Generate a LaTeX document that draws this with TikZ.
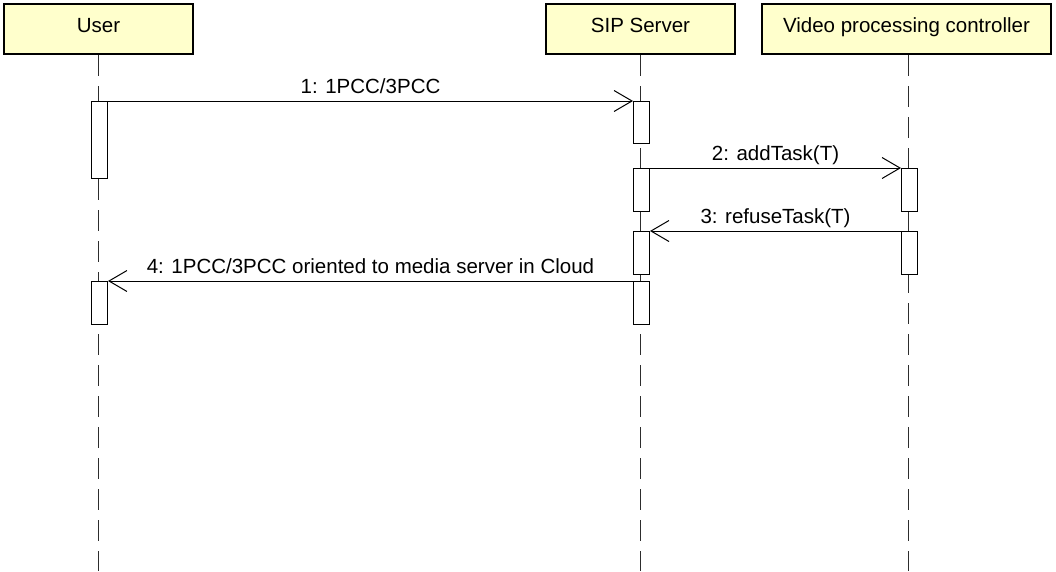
\documentclass[tikz,border=0pt]{standalone}
\usepackage{fontspec}
\setmainfont{Liberation Sans}
\usetikzlibrary{arrows.meta}
\definecolor{hdrfill}{RGB}{255,255,204}
\definecolor{lifegray}{RGB}{45,45,45}
\tikzset{
  header/.style={draw=black, line width=2pt, fill=hdrfill, minimum height=50pt, inner sep=0pt, text height=15pt, text depth=9pt, font=\fontsize{20.5}{24}\selectfont},
  actbar/.style={draw=black, line width=1pt, fill=white, minimum width=16pt, inner sep=0pt, anchor=north},
  lifeline/.style={draw=lifegray, line width=1.8pt, dash pattern=on 21pt off 10pt},
  msg/.style={draw=black, line width=1pt, -{Straight Barb[length=18pt,width=21pt,line width=1pt]}},
  msglabel/.style={font=\fontsize{20.5}{24}\selectfont, anchor=base, yshift=8pt, inner sep=0pt}
}
\begin{document}
\begin{tikzpicture}[x=1pt,y=-1pt]
\useasboundingbox (0,0) rectangle (1056,571);
% headers
\node[header, minimum width=189pt] (user) at (98.5,29) {User};
\node[header, minimum width=189pt] (sip) at (640.5,29) {SIP Server};
\node[header, minimum width=289pt] (vpc) at (906.5,29) {Video processing controller};
% lifeline ends
\coordinate (userend) at (98.5,571);
\coordinate (sipend) at (640.5,571);
\coordinate (vpcend) at (908.5,571);
\draw[lifeline] (user.south) -- (userend);
\draw[lifeline] (sip.south) -- (sipend);
\draw[lifeline] ([xshift=2pt]vpc.south) -- (vpcend);
% activation bars
\node[actbar, minimum height=77pt] (u1) at (99.5,101) {};
\node[actbar, minimum height=42pt] (s1) at (641.5,101) {};
\node[actbar, minimum height=43pt] (s2) at (641.5,168) {};
\node[actbar, minimum height=43pt] (v1) at (909.5,168) {};
\node[actbar, minimum height=43pt] (s3) at (641.5,231) {};
\node[actbar, minimum height=43pt] (v2) at (909.5,231) {};
\node[actbar, minimum height=43pt] (s4) at (641.5,281) {};
\node[actbar, minimum height=43pt] (u2) at (99.5,281) {};
% messages
\draw[msg] (u1.north east) -- node[msglabel] {1: 1PCC/3PCC} (s1.north west);
\draw[msg] (s2.north east) -- node[msglabel] {2: addTask(T)} (v1.north west);
\draw[msg] (v2.north west) -- node[msglabel] {3: refuseTask(T)} (s3.north east);
\draw[msg] (s4.north west) -- node[msglabel] {4: 1PCC/3PCC oriented to media server in Cloud} (u2.north east);
\end{tikzpicture}
\end{document}
